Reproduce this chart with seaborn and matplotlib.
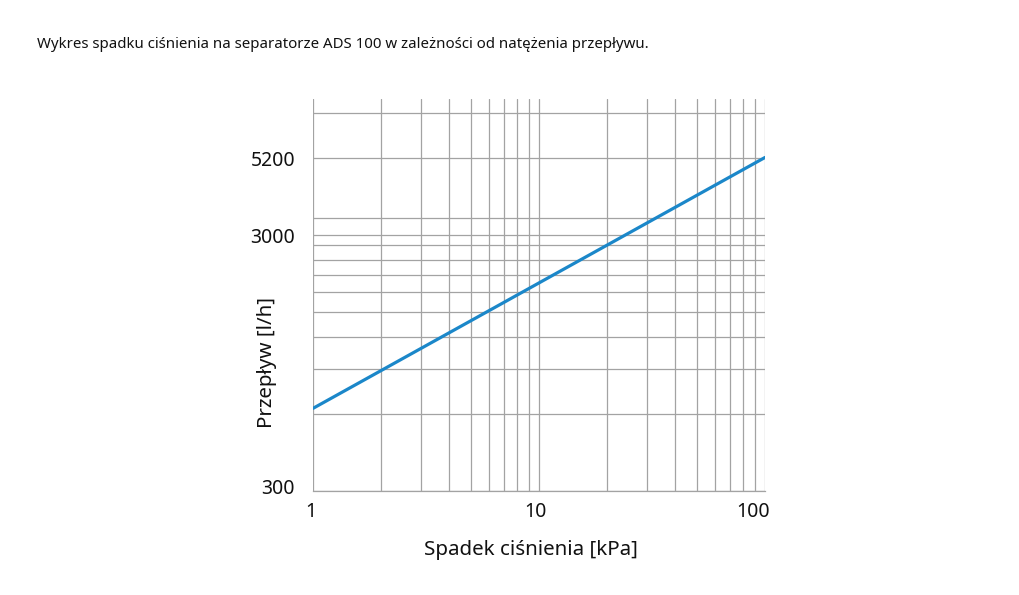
import numpy as np
import pandas as pd
import matplotlib
matplotlib.use('Agg')
import matplotlib.pyplot as plt
import matplotlib.transforms as mtransforms
import seaborn as sns

# values
pressure_drop = [1, 100]           # kPa
flow = [630, 6040]                 # l/h, as drawn against the grid
x_major = [1, 10, 100]
x_minor = [2, 3, 4, 5, 6, 7, 8, 9, 20, 30, 40, 50, 60, 70, 80, 90]
y_ticks = [300, 3000, 6000]
y_tick_labels = ['300', '3000', '5200']
y_minor = [600, 900, 1200, 1500, 1800, 2100, 2400, 2750, 3500, 9000]

df = pd.DataFrame({'dp': pressure_drop, 'q': flow})

sns.set_style('white')
plt.rcParams['font.family'] = ['Noto Sans', 'DejaVu Sans']

fig = plt.figure(figsize=(10.2, 5.95), dpi=100)
ax = fig.add_axes([0.3069, 0.1753, 0.75 - 0.3069, 0.8331 - 0.1753])

grid_c = '#a3a3a3'
sns.lineplot(data=df, x='dp', y='q', ax=ax, color='#1b87c9', linewidth=2.3, zorder=5)

ax.set_xscale('log')
ax.set_yscale('log')
ax.set_xlim(1, 100)
ax.set_ylim(300, 10200)

ax.set_xticks(x_major)
ax.set_xticklabels([str(v) for v in x_major])
ax.set_xticks(x_minor, minor=True)
ax.set_yticks(y_ticks)
ax.set_yticklabels(y_tick_labels)
ax.set_yticks(y_minor, minor=True)
ax.tick_params(axis='x', which='minor', length=0)
ax.tick_params(axis='y', which='minor', length=0, labelleft=False)
ax.tick_params(axis='x', which='major', length=5, width=0.9, color=grid_c,
               labelsize=14, pad=3, labelcolor='#111111')
ax.tick_params(axis='y', which='major', length=6, width=0.9, color=grid_c,
               labelsize=14, pad=7, labelcolor='#111111')

# small nudges so the labels sit like in the original
def nudge(lbl, dx, dy):
    lbl.set_transform(lbl.get_transform() +
                      mtransforms.ScaledTranslation(dx / 100, dy / 100, fig.dpi_scale_trans))

for lbl, dx in zip(ax.get_xticklabels(), [-2, -4, -12]):
    nudge(lbl, dx, 0)
nudge(ax.get_yticklabels()[0], 0, 4)

ax.grid(True, which='both', axis='both', color=grid_c, linewidth=0.9)
for s in ['top', 'right', 'left']:
    ax.spines[s].set_visible(False)
ax.spines['bottom'].set_color(grid_c)
ax.spines['bottom'].set_linewidth(0.9)

ax.set_xlabel('Spadek ciśnienia [kPa]', fontsize=14.8, color='#111111')
ax.xaxis.set_label_coords(0.482, -0.127)
ax.set_ylabel('Przepływ [l/h]', fontsize=14.8, color='#111111')
ax.yaxis.set_label_coords(-0.08, 0.327)

fig.text(0.036, 0.925, 'Wykres spadku ciśnienia na separatorze ADS 100 w zależności od natężenia przepływu.',
         fontsize=10.8, color='#111111', va='center', ha='left')

plt.savefig('out.png', dpi=100)
